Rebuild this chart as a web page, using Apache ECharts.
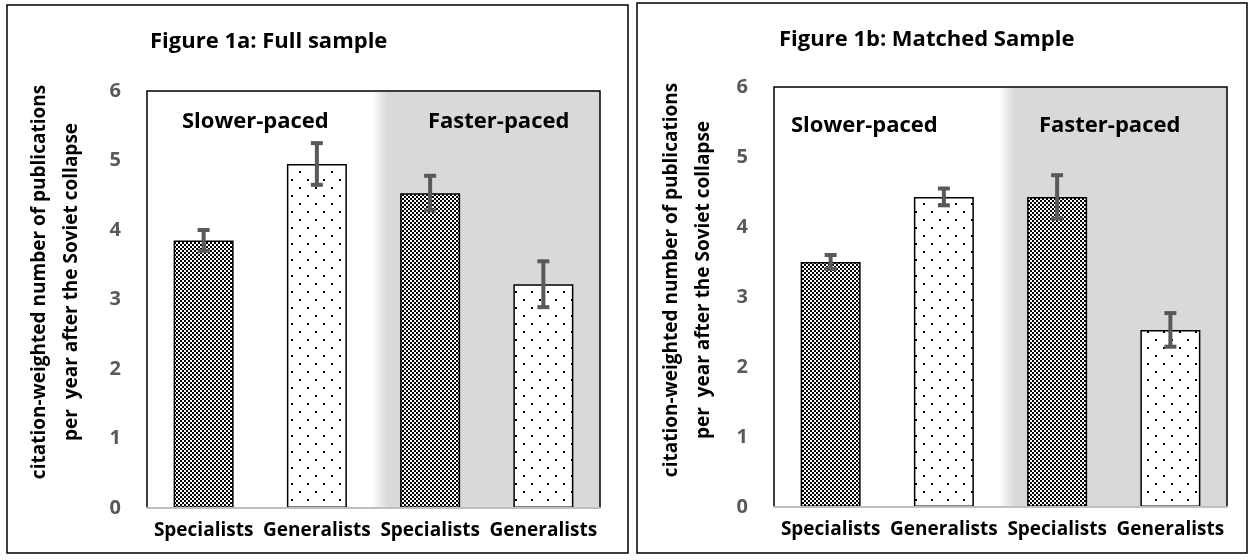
<!DOCTYPE html>
<html>
<head>
<meta charset="utf-8">
<script src="https://cdn.jsdelivr.net/npm/echarts@6/dist/echarts.min.js"></script>
<style>
html,body{margin:0;padding:0;background:#fff;}
#c{width:1252px;height:560px;}
</style>
</head>
<body>
<div id="c"></div>
<script>
// ---- data ----
var categories = ['Specialists', 'Generalists', 'Specialists', 'Generalists'];
var yTicks = [0, 1, 2, 3, 4, 5, 6];
var fullValues = [3.85, 4.95, 4.53, 3.22];
var fullErr = [0.15, 0.30, 0.25, 0.33];
var matchedValues = [3.50, 4.43, 4.43, 2.53];
var matchedErr = [0.10, 0.12, 0.31, 0.24];
var titles = ['Figure 1a: Full sample', 'Figure 1b: Matched Sample'];
var regionLabels = ['Slower-paced', 'Faster-paced'];
var yName = 'citation-weighted number of publications\nper  year after the Soviet collapse';

var FONT = '"Open Sans", Lato, sans-serif';

function makeChecker() {
  var c = document.createElement('canvas');
  c.width = 4; c.height = 4;
  var g = c.getContext('2d');
  g.fillStyle = '#fff'; g.fillRect(0, 0, 4, 4);
  g.fillStyle = '#000';
  g.fillRect(0, 0, 2, 2); g.fillRect(2, 2, 2, 2);
  return c;
}
function makeDots() {
  var c = document.createElement('canvas');
  c.width = 16; c.height = 16;
  var g = c.getContext('2d');
  g.fillStyle = '#fff'; g.fillRect(0, 0, 16, 16);
  g.fillStyle = '#000';
  g.fillRect(3, 3, 2, 2); g.fillRect(11, 11, 2, 2);
  return c;
}
var checker = { image: makeChecker(), repeat: 'repeat' };
var dots = { image: makeDots(), repeat: 'repeat' };

function barData(vals) {
  return vals.map(function (v, i) {
    return { value: v, itemStyle: { color: (i % 2 === 0) ? checker : dots } };
  });
}
function errData(vals, errs) {
  return vals.map(function (v, i) { return [i, v + errs[i], v - errs[i]]; });
}

function renderErr(params, api) {
  var x = api.coord([api.value(0), 0])[0];
  var hi = api.coord([api.value(0), api.value(1)])[1];
  var lo = api.coord([api.value(0), api.value(2)])[1];
  var st = { stroke: '#595959', lineWidth: 4 };
  var hw = 6;
  return {
    type: 'group',
    children: [
      { type: 'line', shape: { x1: x, y1: hi, x2: x, y2: lo }, style: st },
      { type: 'line', shape: { x1: x - hw, y1: hi, x2: x + hw, y2: hi }, style: st },
      { type: 'line', shape: { x1: x - hw, y1: lo, x2: x + hw, y2: lo }, style: st }
    ]
  };
}

function renderBg(params, api) {
  var bw = api.size([1, 0])[0];
  var left = api.coord([0, 0])[0] - bw / 2;
  var x0 = api.coord([2, 0])[0] - bw / 2;
  var x1 = api.coord([3, 0])[0] + bw / 2;
  var top = api.coord([0, 6])[1];
  var bot = api.coord([0, 0])[1];
  var w = x1 - x0;
  return {
    type: 'group',
    children: [
      {
        type: 'rect',
        shape: { x: x0, y: top, width: w, height: bot - top },
        style: {
          fill: new echarts.graphic.LinearGradient(0, 0, 1, 0, [
            { offset: 0, color: '#fbfbfb' },
            { offset: 14 / w, color: '#d9d9d9' },
            { offset: 1, color: '#d9d9d9' }
          ])
        }
      },
      {
        type: 'polyline',
        shape: { points: [[left, bot], [left, top], [x1, top], [x1, bot]] },
        style: { stroke: '#000', lineWidth: 1.5, fill: null }
      }
    ]
  };
}

var grids = [
  { left: 147, top: 91, width: 453, height: 417 },
  { left: 774, top: 87, width: 453, height: 420 }
];

function xAxis(idx) {
  return {
    type: 'category', gridIndex: idx, data: categories,
    axisTick: { show: false },
    axisLine: { show: true, lineStyle: { color: '#bfbfbf', width: 2 } },
    axisLabel: { color: '#000', fontFamily: FONT, fontWeight: 'bold', fontSize: 19, margin: 13, interval: 0 },
    z: 5
  };
}
function yAxis(idx) {
  return {
    type: 'value', gridIndex: idx, min: yTicks[0], max: yTicks[yTicks.length - 1], interval: 1,
    splitLine: { show: false },
    axisLine: { show: false }, axisTick: { show: false },
    axisLabel: { color: '#595959', fontFamily: FONT, fontWeight: 'bold', fontSize: 20, margin: 26 }
  };
}

function panelSeries(idx, vals, errs) {
  return [
    {
      type: 'custom', xAxisIndex: idx, yAxisIndex: idx, renderItem: renderBg,
      data: [[0, 0]], z: 1, silent: true
    },
    {
      type: 'bar', xAxisIndex: idx, yAxisIndex: idx, data: barData(vals),
      barWidth: 60, z: 3,
      itemStyle: { borderColor: '#000', borderWidth: 1.5 }
    },
    {
      type: 'custom', xAxisIndex: idx, yAxisIndex: idx, renderItem: renderErr,
      data: errData(vals, errs), z: 6
    }
  ];
}

var txt = function (x, y, text, size) {
  return {
    type: 'text', x: x, y: y, z: 10,
    style: {
      text: text, fill: '#000', font: 'bold ' + size + 'px ' + FONT,
      align: 'left', verticalAlign: 'middle'
    }
  };
};

var chart = echarts.init(document.getElementById('c'), null, { renderer: 'canvas' });
chart.setOption({
  backgroundColor: '#fff',
  animation: false,
  grid: grids,
  xAxis: [xAxis(0), xAxis(1)],
  yAxis: [yAxis(0), yAxis(1)],
  series: panelSeries(0, fullValues, fullErr).concat(panelSeries(1, matchedValues, matchedErr)),
  graphic: [
    { type: 'rect', shape: { x: 7, y: 5, width: 621, height: 548 }, style: { fill: null, stroke: '#000', lineWidth: 1.5 }, z: 0 },
    { type: 'rect', shape: { x: 637, y: 3, width: 610, height: 550 }, style: { fill: null, stroke: '#000', lineWidth: 1.5 }, z: 0 },
    txt(150, 42, titles[0], 22),
    txt(779, 40, titles[1], 22),
    txt(182, 122, regionLabels[0], 22),
    txt(428, 122, regionLabels[1], 22),
    txt(791, 126, regionLabels[0], 22),
    txt(1039, 126, regionLabels[1], 22),
    {
      type: 'text', x: 56, y: 282, rotation: Math.PI / 2, z: 10,
      style: { text: yName, fill: '#000', font: 'bold 19px ' + FONT, align: 'center', verticalAlign: 'middle', lineHeight: 32 }
    },
    {
      type: 'text', x: 688, y: 280, rotation: Math.PI / 2, z: 10,
      style: { text: yName, fill: '#000', font: 'bold 19px ' + FONT, align: 'center', verticalAlign: 'middle', lineHeight: 32 }
    }
  ]
});
</script>
</body>
</html>
